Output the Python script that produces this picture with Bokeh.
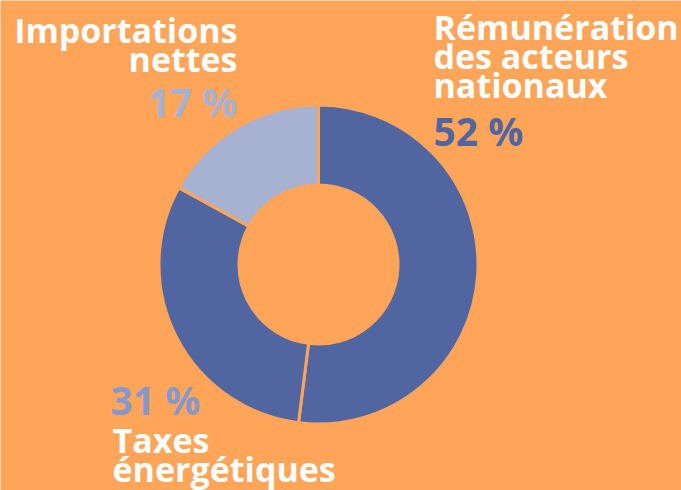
from bokeh.plotting import figure
from bokeh.models import Range1d
from bokeh.core.properties import value
from bokeh.embed import file_html
from bokeh.resources import INLINE
import math

# ---- data ----
categories = ["Rémunération des acteurs nationaux", "Taxes énergétiques", "Importations nettes"]
shares = [52, 31, 17]
label_lines = [["Rémunération", "des acteurs", "nationaux"], ["Taxes", "énergétiques"], ["Importations", "nettes"]]
pct_labels = ["52 %", "31 %", "17 %"]

BG = "#FFA55A"
slice_colors = ["#5166A0", "#5166A0", "#A7B1D2"]
pct_colors = ["#5166A0", "#8797C9", "#A7B1D2"]

# page / coordinate setup (reference pixel space, y measured downward)
W, H = 681, 490
DY_LABEL = -14  # correction for text baseline placement
DY_PCT = -16

def Y(y):
    return H - y

p = figure(width=W, height=H, output_backend="svg", toolbar_location=None,
           x_range=Range1d(0, W), y_range=Range1d(0, H),
           min_border=0, background_fill_color=BG, border_fill_color=BG)
p.axis.visible = False
p.grid.visible = False
p.outline_line_color = None

# donut
cx, cy = 318, 264
r_out, r_in = 159.5, 79.5
total = sum(shares)
starts, ends = [], []
cum = 0
for s in shares:
    starts.append(math.pi / 2 - 2 * math.pi * cum / total)
    cum += s
    ends.append(math.pi / 2 - 2 * math.pi * cum / total)

p.annular_wedge(x=[cx] * 3, y=[Y(cy)] * 3, inner_radius=r_in, outer_radius=r_out,
                start_angle=starts, end_angle=ends, direction="clock",
                fill_color=slice_colors, line_color=BG, line_width=3)

font = value("Open Sans")

# category labels: (anchor x, first baseline, align)
label_pos = [(433, 40, "left"), (112, 453, "left"), (237, 43, "right")]
line_step = 29
for lines, (lx, ly, al) in zip(label_lines, label_pos):
    xs = [lx] * len(lines)
    ys = [Y(ly + DY_LABEL + i * line_step) for i in range(len(lines))]
    p.text(x=xs, y=ys, text=lines, text_font=font, text_font_style="bold",
           text_font_size="34px", text_color="white", text_align=al,
           text_baseline="alphabetic")

# percentages
pct_pos = [(433, 145.5, "left"), (110, 415, "left"), (237, 117, "right")]
for t, c, (px_, py_, al) in zip(pct_labels, pct_colors, pct_pos):
    p.text(x=[px_], y=[Y(py_ + DY_PCT)], text=[t], text_font=font, text_font_style="bold",
           text_font_size="39px", text_color=c, text_align=al,
           text_baseline="alphabetic")

open("out.html", "w").write(file_html(p, INLINE))
